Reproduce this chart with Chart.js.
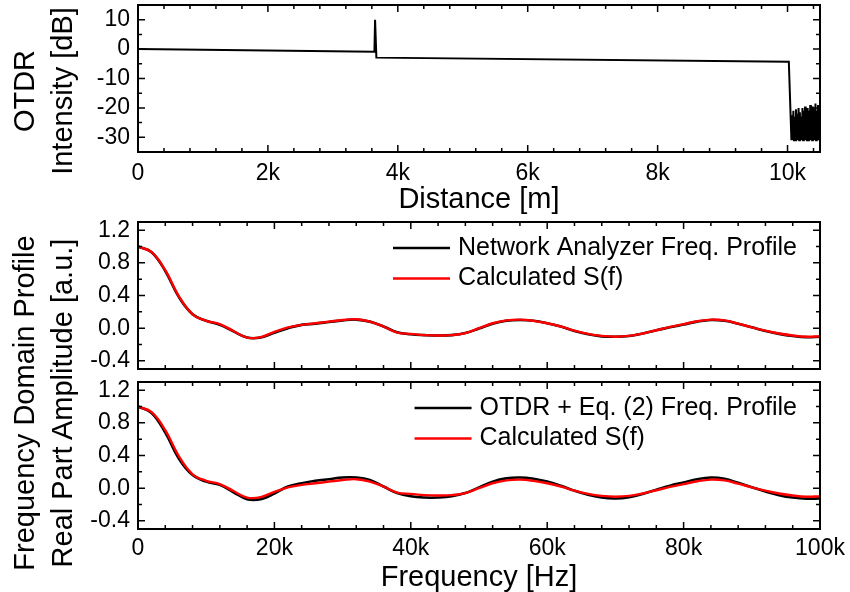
<!DOCTYPE html>
<html>
<head>
<meta charset="utf-8">
<title>OTDR and frequency domain profiles</title>
<script src="https://cdn.jsdelivr.net/npm/chart.js@4.4.0/dist/chart.umd.min.js"></script>
<style>
  html, body { margin: 0; padding: 0; background: #fff; overflow: hidden; }
  #wrap { position: relative; width: 850px; height: 592px; }
  #wrap canvas { position: absolute; left: 0; }
  #otdrCanvas { top: 0; }
  #naCanvas { top: 215px; }
  #eqCanvas { top: 375px; }
  /* rotated two-line y titles */
  .ytitle {
    position: absolute; left: 5px;
    height: 76px;
    font: 29px/38px "Liberation Sans", Arial, sans-serif;
    color: #000; text-align: center; white-space: nowrap;
    transform-origin: 0 0; transform: rotate(-90deg);
  }
  #otdrTitle { top: 191px; width: 200px; }
  #freqTitle { top: 613px; width: 420px; }
</style>
</head>
<body>
<div id="wrap">
  <canvas id="otdrCanvas" width="850" height="215"></canvas>
  <canvas id="naCanvas" width="850" height="160"></canvas>
  <canvas id="eqCanvas" width="850" height="217"></canvas>
  <div id="otdrTitle" class="ytitle">OTDR<br>Intensity [dB]</div>
  <div id="freqTitle" class="ytitle">Frequency Domain Profile<br>Real Part Amplitude [a.u.]</div>
</div>
<script>
// ---- OTDR trace: distance [m] / intensity [dB] ----
const otdrDistance = [0, 3640, 3650, 3670, 10020, 10060,
  10070, 10080, 10090, 10100, 10110, 10120, 10130, 10140, 10150, 10160,
  10170, 10180, 10190, 10200, 10210, 10220, 10230, 10240, 10250, 10260,
  10270, 10280, 10290, 10300, 10310, 10320, 10330, 10340, 10350, 10360,
  10370, 10380, 10390, 10400, 10410, 10420, 10430, 10440, 10450, 10460,
  10470, 10480, 10490, 10500];
const otdrIntensity = [0, -0.9, 10, -2.9, -4.3, -31,
  -22.5, -31, -21, -31, -23, -31, -20.5, -31, -22, -31,
  -20, -31, -21.5, -31, -23, -31, -20, -31, -21, -31,
  -19.5, -31, -22, -31, -20, -31, -21, -31, -19, -31,
  -22.5, -31, -19.5, -31, -20.5, -31, -18.5, -31, -21, -31,
  -19, -31, -20, -31];
const distanceTicks = [0, 2000, 4000, 6000, 8000, 10000];
const intensityTicks = [-30, -20, -10, 0, 10];

// ---- frequency profiles, sampled every 2 kHz ----
const freqKHz = [0, 2, 4, 6, 8, 10, 12, 14, 16, 18, 20, 22, 24, 26, 28, 30, 32, 34, 36, 38,
  40, 42, 44, 46, 48, 50, 52, 54, 56, 58, 60, 62, 64, 66, 68, 70, 72, 74, 76, 78,
  80, 82, 84, 86, 88, 90, 92, 94, 96, 98, 100];
const networkAnalyzer = [1.00, 0.93, 0.70, 0.38, 0.17, 0.09, 0.04, -0.04, -0.115, -0.115,
  -0.055, 0.00, 0.04, 0.055, 0.075, 0.095, 0.105, 0.08, 0.02, -0.05,
  -0.075, -0.085, -0.09, -0.085, -0.06, -0.005, 0.055, 0.09, 0.10, 0.09,
  0.06, 0.02, -0.035, -0.075, -0.10, -0.105, -0.095, -0.065, -0.025, 0.01,
  0.045, 0.08, 0.10, 0.09, 0.055, 0.01, -0.035, -0.07, -0.095, -0.11, -0.105];
const calculatedS = [1.00, 0.93, 0.71, 0.39, 0.17, 0.09, 0.05, -0.035, -0.115, -0.11,
  -0.045, 0.01, 0.04, 0.06, 0.08, 0.10, 0.11, 0.08, 0.02, -0.055,
  -0.07, -0.085, -0.09, -0.085, -0.06, 0.00, 0.06, 0.095, 0.105, 0.09,
  0.06, 0.02, -0.03, -0.07, -0.095, -0.105, -0.095, -0.065, -0.025, 0.015,
  0.05, 0.085, 0.105, 0.095, 0.055, 0.01, -0.03, -0.065, -0.09, -0.105, -0.10];
const otdrEqProfile = [1.00, 0.92, 0.68, 0.36, 0.16, 0.08, 0.04, -0.05, -0.135, -0.135,
  -0.065, 0.02, 0.06, 0.09, 0.11, 0.13, 0.13, 0.10, 0.02, -0.06,
  -0.10, -0.115, -0.115, -0.10, -0.06, 0.01, 0.08, 0.12, 0.13, 0.115,
  0.08, 0.03, -0.03, -0.08, -0.115, -0.125, -0.11, -0.07, -0.02, 0.03,
  0.07, 0.11, 0.13, 0.115, 0.065, 0.01, -0.04, -0.085, -0.115, -0.13, -0.125];
const freqTicks = [0, 20, 40, 60, 80, 100];
const amplitudeTicks = [-0.4, 0, 0.4, 0.8, 1.2];

const FONT = '"Liberation Sans", Arial, sans-serif';
const toPoints = (xs, ys) => xs.map((x, i) => ({ x: x, y: ys[i] }));
const kLabel = v => (v === 0 ? '0' : v + 'k');

// inward tick marks on all four sides plus the closed frame
const frameTicks = {
    id: 'frameTicks',
    afterDraw(chart, args, opts) {
        const { ctx, chartArea: a } = chart;
        const sx = chart.scales.x, sy = chart.scales.y;
        const isMajor = (v, step) => Math.abs(v / step - Math.round(v / step)) < 1e-6;
        ctx.save();
        ctx.strokeStyle = '#000';
        ctx.lineWidth = 1.5;
        ctx.beginPath();
        for (let k = Math.ceil(sx.min / opts.xMinor - 1e-9); k * opts.xMinor <= sx.max + 1e-9; k++) {
            const v = k * opts.xMinor;
            const px = sx.getPixelForValue(v);
            const len = isMajor(v, opts.xMajor) ? 7 : 4;
            ctx.moveTo(px, a.bottom); ctx.lineTo(px, a.bottom - len);
            ctx.moveTo(px, a.top); ctx.lineTo(px, a.top + len);
        }
        for (let k = Math.ceil(sy.min / opts.yMinor - 1e-9); k * opts.yMinor <= sy.max + 1e-9; k++) {
            const v = k * opts.yMinor;
            const py = sy.getPixelForValue(v);
            const len = isMajor(v, opts.yMajor) ? 7 : 4;
            ctx.moveTo(a.left, py); ctx.lineTo(a.left + len, py);
            ctx.moveTo(a.right, py); ctx.lineTo(a.right - len, py);
        }
        ctx.stroke();
        ctx.lineWidth = 2;
        ctx.strokeRect(a.left, a.top, a.right - a.left, a.bottom - a.top);
        ctx.restore();
    }
};

// legend box in the upper right of the plot area
const boxLegend = {
    id: 'boxLegend',
    afterDraw(chart, args, opts) {
        if (!opts.show) return;
        const { ctx, chartArea: a } = chart;
        const sets = chart.data.datasets;
        ctx.save();
        ctx.font = '25px ' + FONT;
        const textW = Math.max(...sets.map(d => ctx.measureText(d.label).width));
        const textX = a.right - opts.right - textW;
        sets.forEach((d, i) => {
            const yy = a.top + opts.top + i * opts.rowGap;
            ctx.strokeStyle = d.borderColor;
            ctx.lineWidth = 2.5;
            ctx.beginPath();
            ctx.moveTo(textX - 8 - 57, yy);
            ctx.lineTo(textX - 8, yy);
            ctx.stroke();
            ctx.fillStyle = '#000';
            ctx.textAlign = 'left';
            ctx.textBaseline = 'middle';
            ctx.fillText(d.label, textX, yy);
        });
        ctx.restore();
    }
};

function buildScales(cfg) {
    return {
        x: {
            type: 'linear',
            min: cfg.xMin,
            max: cfg.xMax,
            afterBuildTicks: axis => { axis.ticks = cfg.xTicks.map(v => ({ value: v })); },
            afterFit: axis => { axis.height = cfg.xHeight; axis.paddingLeft = 0; axis.paddingRight = 0; },
            grid: { display: false, drawTicks: false },
            border: { display: false },
            ticks: {
                display: cfg.xLabels,
                color: '#000',
                font: { family: FONT, size: 23 },
                padding: cfg.xTickPad,
                maxRotation: 0,
                autoSkip: false,
                callback: cfg.xFormat
            },
            title: {
                display: !!cfg.xTitle,
                text: cfg.xTitle || '',
                color: '#000',
                font: { family: FONT, size: 29, lineHeight: 1 },
                padding: { top: 0, bottom: cfg.xTitlePad || 0 }
            }
        },
        y: {
            type: 'linear',
            min: cfg.yMin,
            max: cfg.yMax,
            afterBuildTicks: axis => { axis.ticks = cfg.yTicks.map(v => ({ value: v })); },
            afterFit: axis => { axis.width = 138; axis.paddingTop = 0; axis.paddingBottom = 0; },
            grid: { display: false, drawTicks: false },
            border: { display: false },
            ticks: {
                color: '#000',
                font: { family: FONT, size: 23 },
                padding: 8,
                autoSkip: false,
                callback: cfg.yFormat
            }
        }
    };
}

function baseOptions(padTop, scales, ticksCfg, legendCfg) {
    return {
        responsive: false,
        animation: false,
        devicePixelRatio: 1,
        layout: { padding: { top: padTop, right: 30, bottom: 0, left: 0 } },
        plugins: {
            legend: { display: false },
            tooltip: { enabled: false },
            frameTicks: ticksCfg,
            boxLegend: legendCfg
        },
        scales: scales
    };
}

// top panel: OTDR trace
new Chart(document.getElementById('otdrCanvas'), {
    type: 'line',
    data: {
        datasets: [{
            label: 'OTDR',
            data: toPoints(otdrDistance, otdrIntensity),
            borderColor: '#000',
            borderWidth: 2,
            pointRadius: 0,
            tension: 0
        }]
    },
    options: baseOptions(5, buildScales({
        xMin: 0, xMax: 10500, xTicks: distanceTicks, xLabels: true, xHeight: 63, xTickPad: 8,
        xFormat: v => kLabel(v / 1000), xTitle: 'Distance [m]', xTitlePad: 1,
        yMin: -35, yMax: 15, yTicks: intensityTicks, yFormat: v => String(v)
    }), { xMinor: 400, xMajor: 2000, yMinor: 5, yMajor: 10 }, { show: false }),
    plugins: [frameTicks, boxLegend]
});

function freqChart(canvasId, blackLabel, blackData, showAxis) {
    return new Chart(document.getElementById(canvasId), {
        type: 'line',
        data: {
            datasets: [{
                label: blackLabel,
                data: toPoints(freqKHz, blackData),
                borderColor: '#000',
                borderWidth: 2.6,
                pointRadius: 0,
                tension: 0.4,
                order: 2
            }, {
                label: 'Calculated S(f)',
                data: toPoints(freqKHz, calculatedS),
                borderColor: '#ff0000',
                borderWidth: 2.4,
                pointRadius: 0,
                tension: 0.4,
                order: 1
            }]
        },
        options: baseOptions(7, buildScales({
            xMin: 0, xMax: 100, xTicks: freqTicks, xLabels: showAxis, xHeight: showAxis ? 63 : 6,
            xTickPad: 6, xFormat: kLabel, xTitle: showAxis ? 'Frequency [Hz]' : '', xTitlePad: 0,
            yMin: -0.5, yMax: 1.3, yTicks: amplitudeTicks, yFormat: v => v.toFixed(1)
        }), { xMinor: 4, xMajor: 20, yMinor: 0.2, yMajor: 0.4 },
        { show: true, top: 26, rowGap: 30.5, right: 23 }),
        plugins: [frameTicks, boxLegend]
    });
}

freqChart('naCanvas', 'Network Analyzer Freq. Profile', networkAnalyzer, false);
freqChart('eqCanvas', 'OTDR + Eq. (2) Freq. Profile', otdrEqProfile, true);
</script>
</body>
</html>
